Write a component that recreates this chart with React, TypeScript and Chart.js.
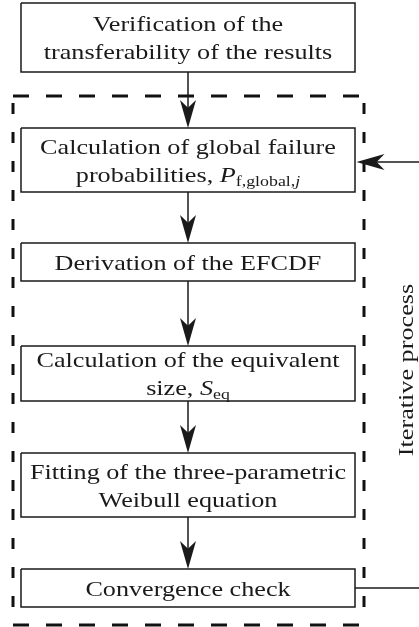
import React, { useEffect, useRef } from "react";
import { Chart, registerables } from "chart.js";

Chart.register(...registerables);

// ---- data ----
type Seg = { t: string; i?: boolean; sub?: boolean };
const stepLines: Seg[][][] = [
  [[{ t: "Verification of the" }], [{ t: "transferability of the results" }]],
  [
    [{ t: "Calculation of global failure" }],
    [{ t: "probabilities, " }, { t: "P", i: true }, { t: "f,global,", sub: true }, { t: "j", sub: true, i: true }],
  ],
  [[{ t: "Derivation of the EFCDF" }]],
  [[{ t: "Calculation of the equivalent" }], [{ t: "size, " }, { t: "S", i: true }, { t: "eq", sub: true }]],
  [[{ t: "Fitting of the three-parametric" }], [{ t: "Weibull equation" }]],
  [[{ t: "Convergence check" }]],
];
const boxTop = [3, 128, 243, 346, 453, 569];
const boxBottom = [72, 192, 281, 401, 517, 607];
const boxLeft = 21;
const boxRight = 355;
const frame = { left: 13, right: 364, top: 96, bottom: 625 };
const loopY = [162, 588];
const sideLabel = "Iterative process";

const W = 419;
const H = 627;
const FONT = "'Liberation Serif', 'Times New Roman', serif";
const FS = 22;
const STRETCH = 1.19;

export default function App() {
  const ref = useRef<HTMLCanvasElement | null>(null);
  useEffect(() => {
    document.body.style.margin = "0";
    const cx = (boxLeft + boxRight) / 2;
    const datasets: any[] = [];
    const black = "#1a1a1a";
    // boxes
    boxTop.forEach((t, k) => {
      const b = boxBottom[k];
      datasets.push({
        data: [
          { x: boxLeft, y: t },
          { x: boxRight, y: t },
          { x: boxRight, y: b },
          { x: boxLeft, y: b },
          { x: boxLeft, y: t },
        ],
        borderColor: black,
        borderWidth: 1.5,
      });
    });
    // vertical connectors
    for (let k = 0; k < boxTop.length - 1; k++) {
      datasets.push({
        data: [
          { x: cx, y: boxBottom[k] },
          { x: cx, y: boxTop[k + 1] - 10 },
        ],
        borderColor: black,
        borderWidth: 1.5,
      });
    }
    // loop lines
    datasets.push({
      data: [
        { x: W, y: loopY[0] },
        { x: boxRight + 15, y: loopY[0] },
      ],
      borderColor: black,
      borderWidth: 1.5,
    });
    datasets.push({
      data: [
        { x: boxRight, y: loopY[1] },
        { x: W, y: loopY[1] },
      ],
      borderColor: black,
      borderWidth: 1.5,
    });
    // dashed frame
    const hd = [16, 17];
    const vd = [11, 18];
    datasets.push({ data: [{ x: frame.left, y: frame.top }, { x: frame.right, y: frame.top }], borderDash: hd, borderColor: "#111", borderWidth: 3 });
    datasets.push({ data: [{ x: frame.left, y: frame.bottom }, { x: frame.right, y: frame.bottom }], borderDash: hd, borderColor: "#111", borderWidth: 3 });
    datasets.push({ data: [{ x: frame.left, y: frame.top + 7 }, { x: frame.left, y: frame.bottom }], borderDash: vd, borderColor: "#111", borderWidth: 3 });
    datasets.push({ data: [{ x: frame.right, y: frame.top + 7 }, { x: frame.right, y: frame.bottom }], borderDash: vd, borderColor: "#111", borderWidth: 3 });

    datasets.forEach((d) => {
      d.showLine = true;
      d.pointRadius = 0;
      d.fill = false;
      d.borderCapStyle = "butt";
    });

    const drawArrow = (ctx: CanvasRenderingContext2D, x: number, y: number, ang: number) => {
      const L = 28, Wd = 16, notch = 0.72;
      ctx.save();
      ctx.translate(x, y);
      ctx.rotate(ang);
      ctx.beginPath();
      ctx.moveTo(0, 0);
      ctx.lineTo(-L, -Wd / 2);
      ctx.lineTo(-L * notch, 0);
      ctx.lineTo(-L, Wd / 2);
      ctx.closePath();
      ctx.fillStyle = black;
      ctx.fill();
      ctx.restore();
    };

    const fontOf = (s: Seg) =>
      `${s.i ? "italic " : ""}${s.sub ? Math.round(FS * 0.7) : FS}px ${FONT}`;

    const drawRich = (ctx: CanvasRenderingContext2D, segs: Seg[], xc: number, y: number) => {
      let total = 0;
      const widths = segs.map((s) => {
        ctx.font = fontOf(s);
        const w = ctx.measureText(s.t).width;
        total += w;
        return w;
      });
      ctx.save();
      ctx.translate(xc - (total * STRETCH) / 2, y);
      ctx.scale(STRETCH, 1);
      let x = 0;
      segs.forEach((s, k) => {
        ctx.font = fontOf(s);
        ctx.textAlign = "left";
        ctx.textBaseline = "alphabetic";
        ctx.fillText(s.t, x, s.sub ? 4 : 0);
        x += widths[k];
      });
      ctx.restore();
    };

    const overlay = {
      id: "overlay",
      afterDatasetsDraw(chart: any) {
        const ctx: CanvasRenderingContext2D = chart.ctx;
        const xs = chart.scales.x;
        const ys = chart.scales.y;
        const px = (v: number) => xs.getPixelForValue(v);
        const py = (v: number) => ys.getPixelForValue(v);
        ctx.save();
        ctx.fillStyle = black;
        // arrows down
        for (let k = 0; k < boxTop.length - 1; k++) {
          drawArrow(ctx, px(cx), py(boxTop[k + 1]), Math.PI / 2);
        }
        drawArrow(ctx, px(boxRight + 1.5), py(loopY[0]), Math.PI);
        // texts
        ctx.fillStyle = "#1a1a1a";
        stepLines.forEach((lines, k) => {
          const mid = (boxTop[k] + boxBottom[k]) / 2;
          const gap = 28;
          lines.forEach((segs, j) => {
            const yc = mid + (j - (lines.length - 1) / 2) * gap;
            drawRich(ctx, segs, px(cx), py(yc) + 7.5);
          });
        });
        // side label
        ctx.save();
        ctx.translate(px(407), py(370));
        ctx.rotate(-Math.PI / 2);
        ctx.scale(STRETCH, 1);
        ctx.font = `${FS}px ${FONT}`;
        ctx.textAlign = "center";
        ctx.textBaseline = "middle";
        ctx.fillText(sideLabel, 0, 0);
        ctx.restore();
        ctx.restore();
      },
    };

    const chart = new Chart(ref.current!, {
      type: "scatter",
      data: { datasets },
      options: {
        animation: false,
        responsive: false,
        devicePixelRatio: 1,
        layout: { padding: 0 },
        plugins: { legend: { display: false }, tooltip: { enabled: false } },
        scales: {
          x: { type: "linear", min: 0, max: W, display: false },
          y: { type: "linear", min: 0, max: H, reverse: true, display: false },
        },
      },
      plugins: [overlay],
    });
    return () => chart.destroy();
  }, []);
  return (
    <div style={{ width: W, height: H, background: "#fff" }}>
      <canvas ref={ref} width={W} height={H} style={{ display: "block" }} />
    </div>
  );
}
